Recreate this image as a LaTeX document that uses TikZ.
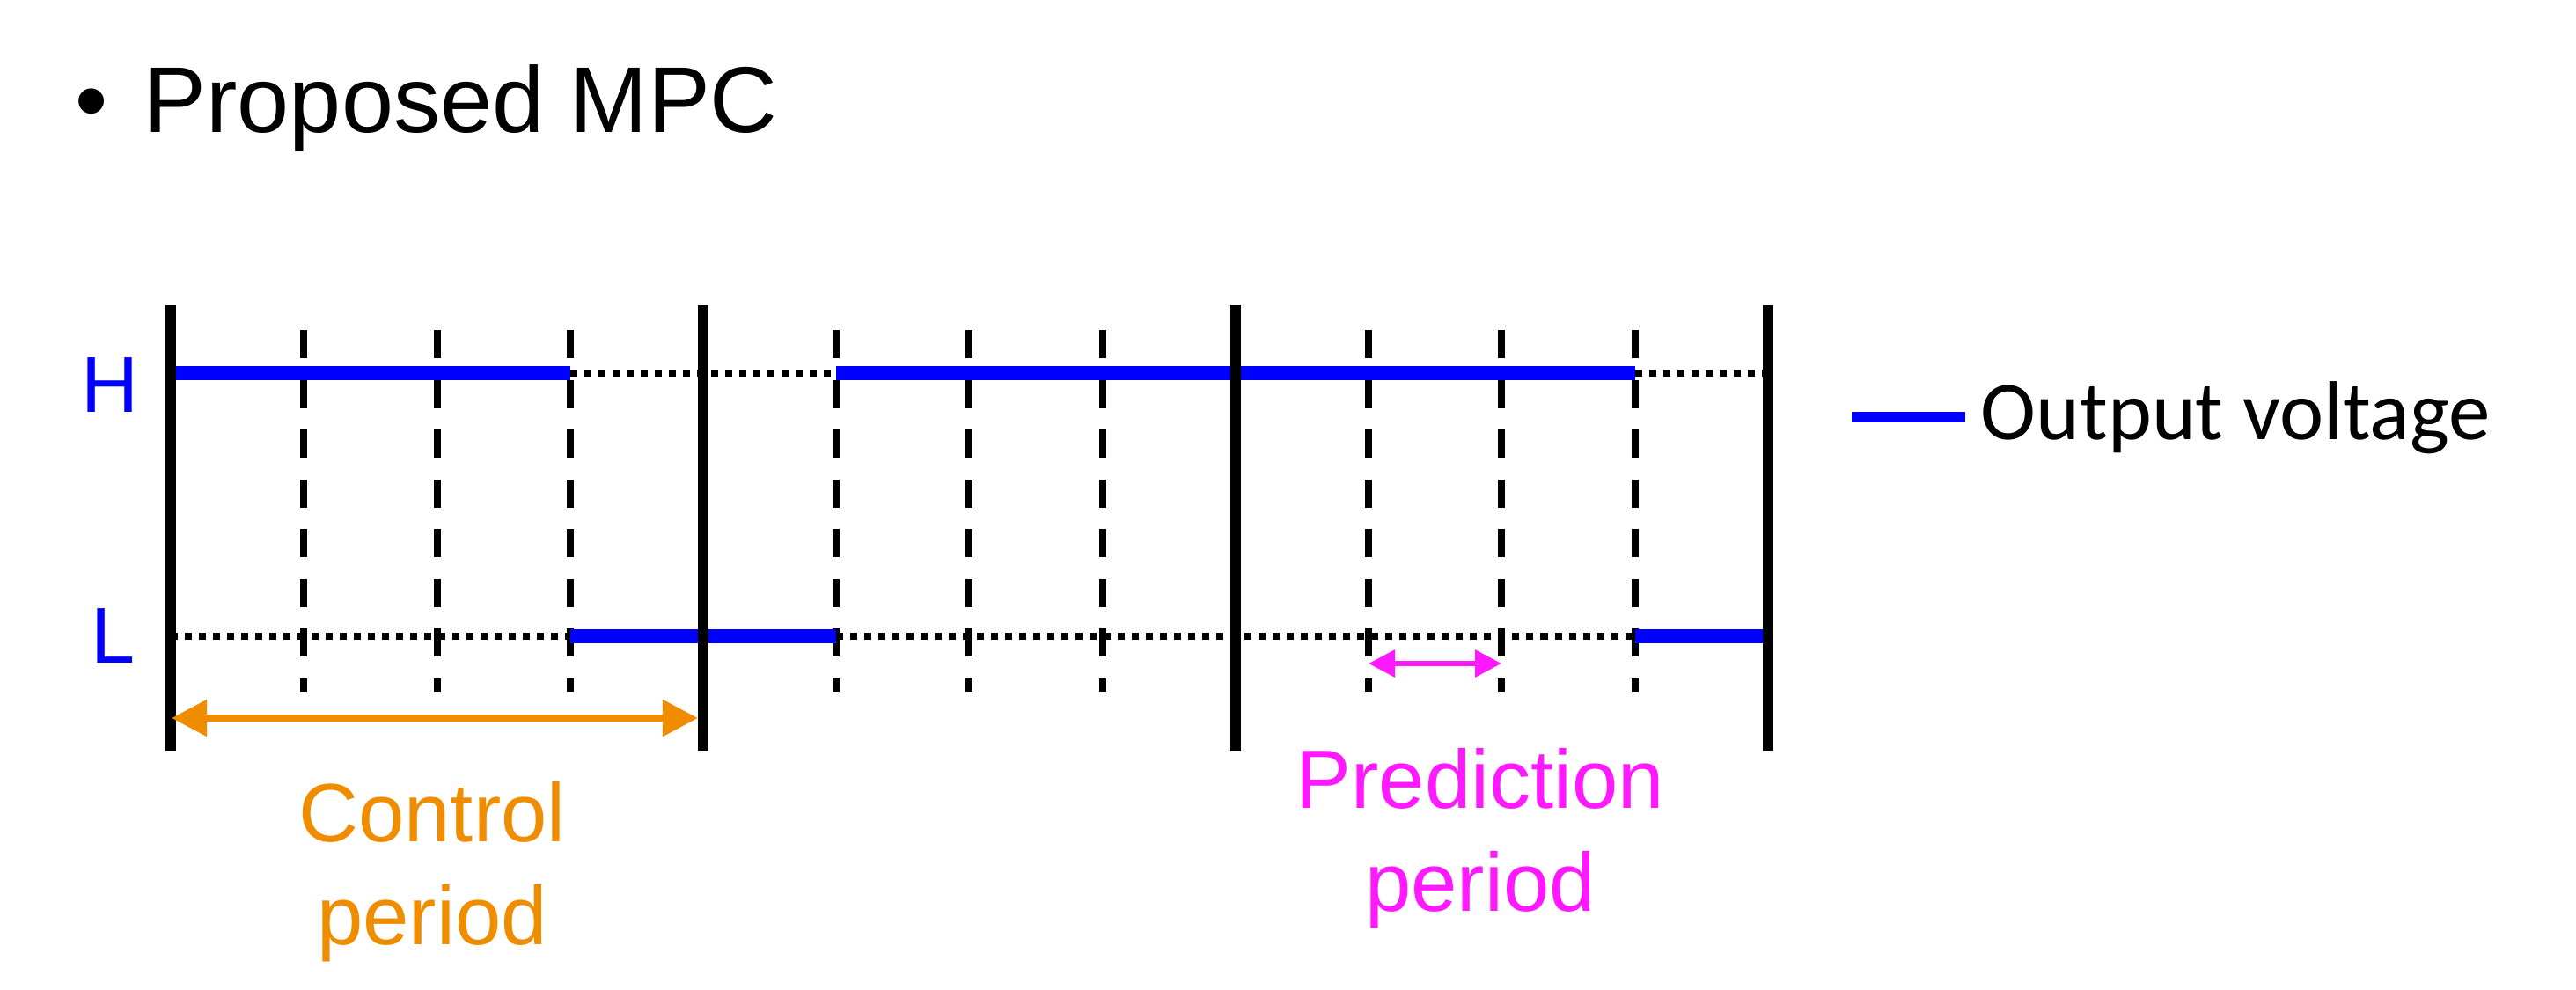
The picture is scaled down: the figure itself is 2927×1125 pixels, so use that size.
\documentclass[tikz,border=0pt]{standalone}
\usepackage{fontspec}
\setmainfont{Liberation Sans}
\newfontfamily\calibrifont{Carlito}
\usetikzlibrary{arrows.meta}
\definecolor{ppblue}{RGB}{0,0,255}
\definecolor{pporange}{RGB}{240,140,0}
\definecolor{ppmagenta}{RGB}{255,25,255}
\begin{document}
\begin{tikzpicture}[x=0.01cm,y=-0.01cm,
  solidbar/.style={line width=0.12cm},
  subdiv/.style={line width=0.08cm, dash pattern=on 0.32cm off 0.245cm},
  dotline/.style={line width=0.08cm, dash pattern=on 0.08cm off 0.08cm},
  outv/.style={ppblue, line width=0.16cm},
  lvlabel/.style={ppblue, font=\fontsize{25.6}{30}\selectfont, inner sep=0},
  perlabel/.style={font=\fontsize{26.75}{33.3}\selectfont, align=center, inner sep=0}]
\useasboundingbox (0,0) rectangle (2927,1125);
% time grid
\foreach \i/\x in {0/194,1/345,2/497,3/648,4/799,5/950,6/1101,7/1253,8/1404,9/1555,10/1706,11/1858,12/2009}
  \coordinate (t\i) at (\x,0);
\coordinate (lvH) at (0,424);
\coordinate (lvL) at (0,723);
\coordinate (topD) at (0,375);
\coordinate (botD) at (0,786);
\coordinate (topS) at (0,347);
\coordinate (botS) at (0,853);
% sub-period dashed lines
\foreach \i in {1,2,3,5,6,7,9,10,11}
  \draw[subdiv] (t\i |- topD) -- (t\i |- botD);
% dotted levels
\draw[dotline] (t3 |- lvH) -- (t5 |- lvH);
\draw[dotline] (t11 |- lvH) -- (t12 |- lvH);
\draw[dotline] (t0 |- lvL) -- (t3 |- lvL);
\draw[dotline] (t5 |- lvL) -- (t11 |- lvL);
% output voltage
\draw[outv] (t0 |- lvH) -- (t3 |- lvH);
\draw[outv] (t5 |- lvH) -- (t11 |- lvH);
\draw[outv] (t3 |- lvL) -- (t5 |- lvL);
\draw[outv] (t11 |- lvL) -- (t12 |- lvL);
% control period boundaries
\foreach \i in {0,4,8,12}
  \draw[solidbar] (t\i |- topS) -- (t\i |- botS);
% arrows
\coordinate (ca) at (195,816);
\coordinate (cb) at (793,816);
\draw[pporange, line width=0.08cm, {Triangle[length=0.4cm,width=0.4cm]}-{Triangle[length=0.4cm,width=0.4cm]}] (ca) -- (cb);
\coordinate (pa) at (1555,754);
\coordinate (pb) at (1706,754);
\draw[ppmagenta, line width=0.06cm, {Triangle[length=0.3cm,width=0.3cm]}-{Triangle[length=0.3cm,width=0.3cm]}] (pa) -- (pb);
% labels
\node[lvlabel, anchor=base] (lH) at (125,469) {H};
\node[lvlabel, anchor=base west] (lL) at (103,754) {L};
\node[perlabel, pporange] (ctrl) at (491,991) {Control\\period};
\node[perlabel, ppmagenta] (pred) at (1682,953) {Prediction\\period};
% title
\node[font=\fontsize{30.2}{36}\selectfont, anchor=base, inner sep=0] (bul) at (104,151) {•};
\node[font=\fontsize{30.2}{36}\selectfont, anchor=base west, inner sep=0] (title) at (163,151) {Proposed MPC};
% legend
\coordinate (lg1) at (2104,474);
\coordinate (lg2) at (2233,474);
\draw[ppblue, line width=0.12cm] (lg1) -- (lg2);
\node[font=\calibrifont\fontsize{27}{32}\selectfont, anchor=base west, inner sep=0] (legtxt) at (2250,500) {Output voltage};
\end{tikzpicture}
\end{document}
